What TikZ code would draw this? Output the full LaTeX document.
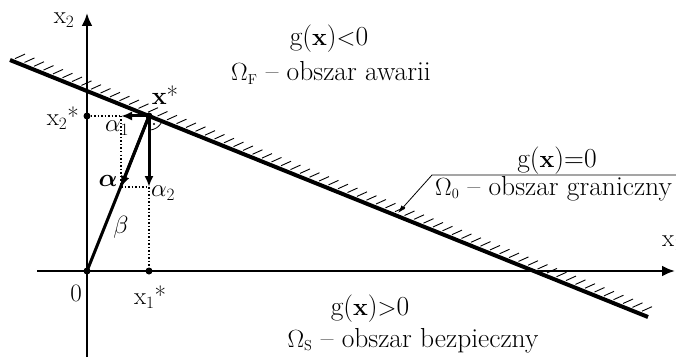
\documentclass[tikz,border=0pt]{standalone}
\usepackage{bm}
\usetikzlibrary{arrows.meta}
\begin{document}
\begin{tikzpicture}[x=1pt,y=-1pt,
  lbl/.style={font=\fontsize{25}{30}\selectfont, inner sep=0pt},
  big/.style={font=\fontsize{27.5}{33}\selectfont, inner sep=0pt, anchor=base},
  axis/.style={line width=2.5pt, -{Latex[length=13pt,width=11pt]}},
  vec/.style={line width=3pt, -{Latex[length=11pt,width=9pt]}},
  dots/.style={line width=1.5pt, dotted},
  pt/.style={circle, fill, inner sep=0pt, minimum size=7pt},
  hatch/.style={line width=0.9pt},
  leader/.style={line width=0.8pt, -{Latex[length=8pt,width=5pt]}}]
\useasboundingbox (0,0) rectangle (676,358);
% points
\coordinate (O) at (87,271);
\coordinate (xs) at (149,116);
\coordinate (x2s) at (87,116);
\coordinate (x1s) at (149,271);
\coordinate (a1) at (121,116);
\coordinate (a2) at (149,187);
\coordinate (al) at (121,187);
\coordinate (L1) at (10,60);
\coordinate (L2) at (648,317);
\coordinate (ax1) at (37,271);
\coordinate (ax2) at (675,271);
\coordinate (ay1) at (87,357);
\coordinate (ay2) at (87,13);
\coordinate (le) at (677,175);
\coordinate (lc) at (432,175);
\coordinate (lt) at (398,213);
% hatching
\foreach \i in {0,...,66}{
  \pgfmathsetmacro{\hx}{10+4+\i*9.5}
  \pgfmathsetmacro{\hy}{60+0.4028*(\hx-10)}
  \draw[hatch] (\hx+1,\hy-3) -- (\hx+11,\hy-7.5);
}
% axes
\draw[axis] (ax1) -- (ax2);
\draw[axis] (ay1) -- (ay2);
% limit state line
\draw[line width=4pt] (L1) -- (L2);
% dotted projections
\draw[dots] (x2s) -- (a1);
\draw[dots] (a1) -- (al);
\draw[dots] (al) -- (a2);
\draw[dots] (a2) -- (x1s);
% vectors
\draw[line width=3pt] (O) -- (xs);
\draw[vec] (xs) -- (al);
\draw[vec] (xs) -- (a1);
\draw[vec] (xs) -- (a2);
% right angle mark
\draw[line width=0.8pt] plot[domain=22:90, samples=20] ({149+14*cos(\x)},{116+14*sin(\x)});
\fill (154,124) circle (1.2pt);
% dots
\node[pt] (Od) at (O) {};
\node[pt] (xsd) at (xs) {};
\node[pt] (x2d) at (x2s) {};
\node[pt] (x1d) at (x1s) {};
% leader
\draw[leader] (le) -- (lc) -- (lt);
% small labels
\node[lbl] (lx2) at (64,20) {$\mathrm{x}_2$};
\node[lbl, anchor=east] (lx2s) at (79,118) {$\mathrm{x}_2$*};
\node[lbl] (lxs) at (165,95) {\textbf{x}*};
\node[lbl] (la1) at (117,128) {$\alpha_1$};
\node[lbl] (la) at (108,181) {$\bm{\alpha}$};
\node[lbl] (la2) at (163,193) {$\alpha_2$};
\node[lbl] (lb) at (121,227) {$\beta$};
\node[lbl] (l0) at (76,293) {0};
\node[lbl] (lx1s) at (150,297) {$\mathrm{x}_1$*};
\node[lbl, anchor=west] (lx1) at (662,243) {$\mathrm{x}_1$};
% region texts
\node[big] (t1) at (329,46) {g($\mathbf{x}$)$<$0};
\node[big] (t2) at (331,81) {$\Omega_{\scriptscriptstyle\mathrm{F}}$ -- obszar awarii};
\node[big] (t3) at (557,167) {g($\mathbf{x}$)=0};
\node[big, anchor=base west] (t4) at (435,195) {$\Omega_{\scriptscriptstyle 0}$ -- obszar graniczny};
\node[big] (t5) at (370,315) {g($\mathbf{x}$)$>$0};
\node[big] (t6) at (413,347) {$\Omega_{\scriptscriptstyle\mathrm{S}}$ -- obszar bezpieczny};
\end{tikzpicture}
\end{document}
